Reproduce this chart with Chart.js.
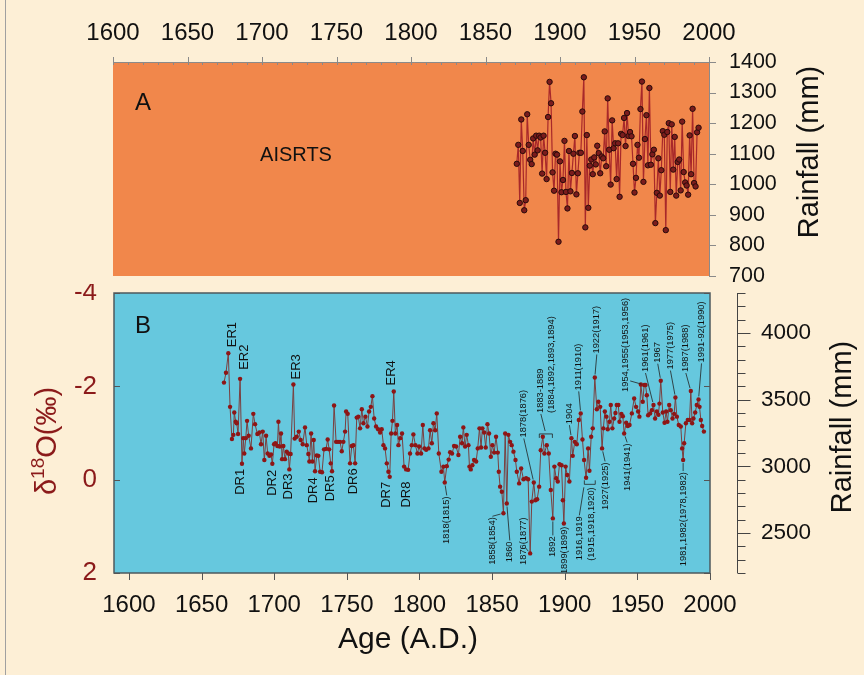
<!DOCTYPE html>
<html>
<head>
<meta charset="utf-8">
<script src="https://cdn.jsdelivr.net/npm/chart.js@4/dist/chart.umd.min.js"></script>
<style>
  html, body { margin: 0; padding: 0; background: #fdefd6; }
  #wrap { position: relative; width: 864px; height: 675px; overflow: hidden; }
  #frame { position: absolute; left: 5px; top: 0; width: 1px; height: 675px; background: #a0a0a0; }
  canvas { position: absolute; left: 0; }
  #top { top: 0; }
  #bot { top: 284px; }
</style>
</head>
<body>
<div id="wrap">
  <div id="frame"></div>
  <canvas id="top" width="864" height="284"></canvas>
  <canvas id="bot" width="864" height="391"></canvas>
</div>
<script>
// panel A: all-India summer rainfall (AISRTS), mm
const rainYears = [
  1871, 1872, 1873, 1874, 1875, 1876, 1877, 1878, 1879, 1880, 1881, 1882, 1883, 1884, 1885, 1886,
  1887, 1888, 1889, 1890, 1891, 1892, 1893, 1894, 1895, 1896, 1897, 1898, 1899, 1900, 1901, 1902,
  1903, 1904, 1905, 1906, 1907, 1908, 1909, 1910, 1911, 1912, 1913, 1914, 1915, 1916, 1917, 1918,
  1919, 1920, 1921, 1922, 1923, 1924, 1925, 1926, 1927, 1928, 1929, 1930, 1931, 1932, 1933, 1934,
  1935, 1936, 1937, 1938, 1939, 1940, 1941, 1942, 1943, 1944, 1945, 1946, 1947, 1948, 1949, 1950,
  1951, 1952, 1953, 1954, 1955, 1956, 1957, 1958, 1959, 1960, 1961, 1962, 1963, 1964, 1965, 1966,
  1967, 1968, 1969, 1970, 1971, 1972, 1973, 1974, 1975, 1976, 1977, 1978, 1979, 1980, 1981, 1982,
  1983, 1984, 1985, 1986, 1987, 1988, 1989, 1990, 1991, 1992, 1993
];
const rainValues = [
  1067, 1129, 939, 1212, 1109, 915, 948, 1229, 1129, 1080, 1066, 1150, 1097, 1159, 1111, 1159,
  1153, 1035, 1159, 1103, 1017, 1220, 1335, 1265, 1039, 979, 1100, 1097, 812, 1075, 974, 1014,
  1142, 975, 921, 1109, 977, 1037, 1100, 1158, 967, 1036, 1103, 1103, 1238, 1350, 859, 1161,
  923, 1061, 1081, 1033, 1088, 1065, 1126, 1102, 1036, 1091, 1085, 1173, 1059, 1281, 1113, 999,
  1209, 1118, 1134, 1017, 1134, 959, 1165, 1161, 1217, 1125, 1233, 1158, 1171, 1157, 1067, 973,
  1021, 1129, 1087, 1246, 1336, 1008, 1148, 1226, 1062, 1315, 1064, 1098, 1113, 873, 972, 1085,
  963, 1046, 1174, 1162, 850, 1171, 1200, 975, 1196, 1048, 1155, 963, 1073, 1081, 980, 1205,
  1040, 1006, 996, 966, 1160, 1033, 1247, 1004, 993, 1170, 1185
];

// panel B: speleothem d18O (per mil)
const isoYears = [
  1665.4, 1666.8, 1668.4, 1669.6, 1670.9, 1671.9, 1672.5, 1673.5, 1674.2, 1675.1, 1676.5, 1677.8,
  1678.7, 1679.4, 1680.4, 1681.3, 1682.4, 1684.0, 1685.6, 1686.8, 1688.4, 1689.8, 1690.9, 1692.1,
  1693.2, 1694.4, 1695.5, 1696.7, 1697.8, 1698.7, 1699.9, 1700.8, 1702.2, 1702.9, 1703.8, 1704.7,
  1705.4, 1706.3, 1707.4, 1708.6, 1709.7, 1710.4, 1711.3, 1713.2, 1714.1, 1715.5, 1716.9, 1718.2,
  1719.6, 1721.2, 1722.4, 1723.5, 1724.2, 1725.4, 1726.3, 1727.2, 1728.1, 1729.3, 1730.4, 1731.6,
  1732.9, 1734.3, 1735.7, 1736.8, 1737.8, 1738.9, 1739.8, 1741.2, 1742.6, 1743.9, 1745.3, 1746.5,
  1747.6, 1748.8, 1749.5, 1750.6, 1752.2, 1753.4, 1754.5, 1755.7, 1756.8, 1757.9, 1759.1, 1760.3,
  1761.4, 1762.8, 1764.2, 1765.3, 1766.5, 1767.6, 1768.8, 1770.1, 1771.5, 1772.9, 1774.0, 1775.2,
  1776.3, 1777.5, 1778.6, 1779.5, 1780.5, 1781.4, 1782.3, 1783.4, 1784.6, 1785.5, 1786.7, 1788.0,
  1789.4, 1790.8, 1792.2, 1793.5, 1794.7, 1795.8, 1797.2, 1798.6, 1799.7, 1801.1, 1802.3, 1803.4,
  1804.6, 1806.2, 1807.3, 1808.5, 1809.6, 1810.8, 1811.9, 1813.3, 1815.1, 1816.5, 1817.4, 1818.8,
  1820.1, 1821.1, 1822.4, 1823.8, 1825.2, 1826.8, 1828.0, 1829.3, 1830.2, 1831.4, 1832.5, 1833.7,
  1834.4, 1835.3, 1836.4, 1837.6, 1839.0, 1840.1, 1841.3, 1842.4, 1843.3, 1844.5, 1845.6, 1846.8,
  1847.9, 1849.1, 1850.2, 1851.4, 1852.7, 1853.9, 1854.6, 1855.5, 1856.7, 1857.8, 1859.0, 1860.1,
  1861.2, 1862.4, 1863.5, 1864.7, 1866.1, 1867.0, 1868.6, 1870.0, 1871.6, 1873.4, 1874.8, 1876.2,
  1877.3, 1878.7, 1879.8, 1881.0, 1882.4, 1883.5, 1884.9, 1886.0, 1887.6, 1889.0, 1890.4, 1891.8,
  1892.9, 1894.1, 1895.2, 1896.4, 1897.8, 1898.7, 1899.4, 1900.6, 1901.7, 1903.2, 1904.6, 1905.5,
  1906.9, 1908.3, 1909.7, 1911.0, 1912.2, 1913.3, 1914.7, 1916.1, 1917.0, 1918.2, 1919.3, 1920.7,
  1922.1, 1923.2, 1924.4, 1925.7, 1926.6, 1927.6, 1928.7, 1929.6, 1930.8, 1931.7, 1932.8, 1934.0,
  1934.9, 1935.8, 1936.9, 1937.7, 1939.0, 1940.0, 1940.9, 1942.3, 1943.4, 1944.6, 1946.2, 1947.8,
  1949.1, 1950.5, 1951.4, 1952.4, 1953.7, 1954.7, 1955.6, 1956.5, 1957.4, 1958.8, 1960.0, 1961.1,
  1962.2, 1963.4, 1964.5, 1965.2, 1966.1, 1967.5, 1968.7, 1969.8, 1970.7, 1971.9, 1973.0, 1974.2,
  1975.3, 1976.2, 1977.2, 1978.5, 1979.9, 1980.8, 1981.5, 1982.2, 1983.4, 1984.7, 1985.9, 1986.8,
  1987.7, 1988.6, 1989.8, 1990.9, 1992.1, 1992.8, 1993.7, 1994.6, 1995.8
];
const isoValues = [
  -2.08, -2.29, -2.71, -1.56, -0.87, -0.96, -1.44, -1.24, -1.21, -0.98, -2.16, -0.34,
  -0.89, -0.56, -0.89, -1.26, -0.94, -0.67, -1.41, -1.19, -0.98, -1.01, -0.76, -1.03,
  -0.42, -0.94, -0.56, -0.51, -0.54, -0.34, -0.76, -0.78, -0.72, -1.24, -0.71, -0.99,
  -0.44, -0.72, -0.44, -0.60, -0.56, -0.22, -0.55, -2.04, -0.88, -0.92, -1.03, -0.85,
  -0.76, -1.12, -0.74, -0.55, -0.39, -0.99, -0.39, -0.85, -0.18, -0.52, -0.51, -0.17,
  -0.16, -0.65, -0.66, -0.86, -0.65, -0.35, -0.18, -1.59, -0.81, -0.81, -0.81, -0.61,
  -0.81, -1.03, -1.46, -1.41, -0.35, -0.72, -0.74, -0.35, -1.33, -1.35, -1.10, -1.51,
  -1.21, -1.35, -1.14, -1.46, -1.56, -1.79, -1.31, -1.14, -1.08, -1.01, -1.08, -0.74,
  -0.67, -0.35, -0.17, -0.06, -0.99, -1.26, -1.89, -0.99, -1.17, -0.74, -0.89, -0.99,
  -0.28, -0.22, -0.21, -0.56, -0.74, -0.97, -0.74, -0.56, -0.71, -0.56, -1.17, -0.67,
  -0.64, -0.67, -1.06, -0.78, -1.21, -1.06, -1.42, -0.56, -0.17, -0.28, 0.06, -0.29,
  -0.43, -0.59, -0.56, -0.72, -0.71, -0.53, -0.92, -0.78, -1.12, -0.71, -0.96, -0.74,
  -0.28, -0.22, -0.31, -0.42, -0.39, -0.67, -1.10, -0.69, -1.10, -1.01, -0.69, -1.19,
  -0.99, -0.49, -0.74, -0.58, -0.92, -0.58, -0.17, 0.15, 0.26, 0.72, -0.99, 0.51,
  -0.96, -0.81, -0.74, -0.60, -0.42, -0.17, 0.08, -0.24, -0.01, -0.03, -0.01, 1.58,
  0.47, 0.06, 0.44, 0.42, 0.15, -0.63, -0.92, -0.56, -0.74, -0.56, 0.22, 0.83,
  -0.28, -0.03, 0.04, -0.33, -0.31, 0.44, 0.94, -0.28, -0.10, 0.04, -0.89, -0.51,
  -0.81, -0.76, -1.28, -1.42, -0.86, -0.42, -0.04, -0.67, -0.19, -0.92, -1.10, -2.19,
  -1.51, -1.67, -1.56, -0.67, -1.10, -1.46, -1.35, -1.08, -1.24, -1.60, -1.10, -1.31,
  -1.43, -1.60, -1.60, -1.24, -1.41, -1.36, -0.99, -1.22, -1.15, -1.17, -1.42, -1.74,
  -1.56, -1.46, -1.35, -2.04, -1.67, -2.03, -2.03, -1.81, -1.38, -1.42, -1.49, -1.60,
  -1.31, -1.46, -1.39, -1.63, -2.12, -1.44, -1.22, -1.46, -1.24, -1.60, -1.49, -1.31,
  -1.41, -1.76, -1.35, -1.17, -1.14, -0.67, -0.42, -0.78, -1.21, -1.28, -1.28, -1.90,
  -1.21, -1.31, -1.44, -1.60, -1.72, -1.56, -1.28, -1.15, -1.03
];

const yearTicks = [1600, 1650, 1700, 1750, 1800, 1850, 1900, 1950, 2000];
const rainTicksA = [700, 800, 900, 1000, 1100, 1200, 1300, 1400];
const isoTicks = [-4, -2, 0, 2];
const rainTicksB = [2500, 3000, 3500, 4000];

// labelled events in panel B: text, anchor (year, d18O) and where the text sits
const notes = [
  { t: 'ER1', x: 1668.4, y: -2.71, dx: 4, dy: -6, up: true, size: 13 },
  { t: 'ER2', x: 1676.5, y: -2.16, dx: 4, dy: -9, up: true, size: 13 },
  { t: 'ER3', x: 1713.2, y: -2.04, dx: 3, dy: -5, up: true, size: 13 },
  { t: 'ER4', x: 1782.3, y: -1.89, dx: -2, dy: -6, up: true, size: 13 },
  { t: 'DR1', x: 1677.8, y: -0.34, dx: -2, dy: 5, size: 13 },
  { t: 'DR2', x: 1698.7, y: -0.34, dx: 0, dy: 6, size: 13 },
  { t: 'DR3', x: 1710.4, y: -0.22, dx: -1, dy: 4, size: 13 },
  { t: 'DR4', x: 1728.1, y: -0.18, dx: -2, dy: 6, size: 13 },
  { t: 'DR5', x: 1739.8, y: -0.18, dx: -2, dy: 4, size: 13 },
  { t: 'DR6', x: 1752.2, y: -0.35, dx: 3, dy: 5, size: 13 },
  { t: 'DR7', x: 1779.5, y: -0.06, dx: -3, dy: 5, size: 13 },
  { t: 'DR8', x: 1789.4, y: -0.28, dx: 2, dy: 15, size: 13 },
  { t: '1818(1815)', x: 1817.4, y: 0.06, dx: 2, dy: 14, line: true },
  { t: '1858(1854)', x: 1857.8, y: 0.72, dx: -11, dy: 4, line: true },
  { t: '1860', x: 1860.1, y: 0.51, dx: 3, dy: 38, line: true },
  { t: '1876(1877)', x: 1876.2, y: 1.58, dx: -7, dy: -36, line: true, lx: -5, ly: -6 },
  { t: '1878(1876)', x: 1878.7, y: 0.06, dx: -10, dy: -45, up: true, line: true },
  { t: ['1883-1889', '(1884,1892,1893,1894)'], x: 1887, y: -0.98, dx: -5, dy: -21, up: true, line: true },
  { t: '1892', x: 1891.8, y: 0.83, dx: 0, dy: 18, line: true },
  { t: '1899(1899)', x: 1899.4, y: 0.94, dx: 1, dy: 3 },
  { t: '1904', x: 1904.6, y: -0.89, dx: -2, dy: -14, up: true, line: true },
  { t: '1911(1910)', x: 1911.0, y: -1.42, dx: -2, dy: -23, up: true, line: true },
  { t: '1916,1919', x: 1913.5, y: 0.1, dx: -5, dy: 32, line: true },
  { t: '(1915,1918,1920)', x: 1917.25, y: 0.1, dx: 2, dy: 3 },
  { t: '1922(1917)', x: 1920.7, y: -2.19, dx: 2, dy: -24, up: true, line: true },
  { t: '1927(1925)', x: 1925.7, y: -0.67, dx: 3, dy: 14, line: true },
  { t: '1941(1941)', x: 1940.9, y: -0.99, dx: 3, dy: 10, line: true },
  { t: '1954,1955(1953,1956)', x: 1954.7, y: -2.03, dx: -19, dy: 7, up: true, line: true, lx: -14, ly: -4 },
  { t: '1961(1961)', x: 1961.1, y: -1.6, dx: -8, dy: -33, up: true, line: true },
  { t: '1967', x: 1966.1, y: -2.12, dx: -3, dy: -18, up: true, line: true },
  { t: '1977(1975)', x: 1976.2, y: -1.76, dx: -5, dy: -28, up: true, line: true },
  { t: '1987(1988)', x: 1986.8, y: -1.9, dx: -5, dy: -19, up: true, line: true },
  { t: '1991-92(1990)', x: 1992.1, y: -1.72, dx: 3, dy: -37, up: true, line: true },
  { t: '1981,1982(1978,1982)', x: 1981.5, y: -0.42, dx: 0, dy: 12, line: true }
];
const brackets = [
  { x1: 1882.5, x2: 1891.5, y: -0.98, leg: 4 },
  { x1: 1913.5, x2: 1921.0, y: 0.1, leg: -4 }
];

const FONT = "'Liberation Sans', Arial, sans-serif";
const ORANGE = '#f1874b';
const BLUE = '#66c8de';
const DARKRED = '#8b1a1a';
const AXIS = '#8a8a8a';

function font(size) { return { family: FONT, size: size }; }

function line(ctx, x1, y1, x2, y2) {
  ctx.beginPath(); ctx.moveTo(x1, y1); ctx.lineTo(x2, y2); ctx.stroke();
}

function vText(ctx, txt, x, y, align, size, color) {
  ctx.save();
  ctx.translate(x, y);
  ctx.rotate(-Math.PI / 2);
  ctx.font = size + 'px ' + FONT;
  ctx.fillStyle = color;
  ctx.textAlign = align;
  ctx.textBaseline = 'middle';
  ctx.fillText(txt, 0, 0);
  ctx.restore();
}

const fixTicks = list => scale => { scale.ticks = list.map(v => ({ value: v })); };
// force a scale's box size and drop the label overhang padding
const fitBox = (w, h) => s => {
  if (w !== null) s.width = w;
  if (h !== null) s.height = h;
  s.paddingTop = 0; s.paddingBottom = 0; s.paddingLeft = 0; s.paddingRight = 0;
};

// ---------- panel A ----------
const panelA = {
  id: 'panelA',
  beforeDraw(chart) {
    const { ctx, chartArea: a } = chart;
    ctx.save();
    ctx.fillStyle = ORANGE;
    ctx.fillRect(a.left, a.top, a.right - a.left, a.bottom - a.top);
    ctx.restore();
  },
  afterDraw(chart) {
    const { ctx, chartArea: a, scales } = chart;
    const xs = scales.x, ys = scales.y;
    ctx.save();
    ctx.strokeStyle = AXIS;
    ctx.lineWidth = 1;
    line(ctx, a.left, a.top + 0.5, a.right + 7, a.top + 0.5);
    line(ctx, a.right + 0.5, a.top, a.right + 0.5, a.bottom + 1);
    for (let v = 1600; v <= 2000; v += 10) {
      const px = Math.round(xs.getPixelForValue(v)) + 0.5;
      if (v % 50 === 0) line(ctx, px, a.top - 5, px, a.top + 3);
      else line(ctx, px, a.top, px, a.top + 3);
    }
    rainTicksA.forEach(v => {
      const py = Math.round(ys.getPixelForValue(v)) + 0.5;
      line(ctx, a.right, py, a.right + 7, py);
    });
    ctx.fillStyle = '#111';
    ctx.font = '24px ' + FONT;
    ctx.textAlign = 'center';
    ctx.textBaseline = 'middle';
    ctx.fillText('A', a.left + 30, a.top + 41);
    ctx.font = '20px ' + FONT;
    ctx.fillText('AISRTS', a.left + 183, a.top + 93);
    ctx.restore();
    vText(ctx, 'Rainfall (mm)', a.right + 101, (a.top + a.bottom) / 2 - 17, 'center', 29, '#111');
  }
};

new Chart(document.getElementById('top'), {
  type: 'line',
  data: {
    datasets: [{
      data: rainYears.map((y, i) => ({ x: y, y: rainValues[i] })),
      borderColor: '#a8282a',
      borderWidth: 1.2,
      pointRadius: 2.7,
      pointBackgroundColor: '#7a1c1c',
      pointBorderColor: '#2a0b0b',
      pointBorderWidth: 1,
      tension: 0
    }]
  },
  options: {
    responsive: false,
    animation: false,
    events: [],
    layout: { padding: { left: 113, right: 0, top: 0, bottom: 8 } },
    plugins: { legend: { display: false }, tooltip: { enabled: false } },
    scales: {
      x: {
        type: 'linear', position: 'top', min: 1600, max: 2000,
        grid: { display: false, drawTicks: false }, border: { display: false },
        afterBuildTicks: fixTicks(yearTicks),
        ticks: { font: font(24), color: '#111', padding: 14, maxRotation: 0, autoSkip: false, callback: v => String(v) },
        afterFit: fitBox(null, 62)
      },
      y: {
        position: 'right', min: 700, max: 1400,
        grid: { display: false, drawTicks: false }, border: { display: false },
        afterBuildTicks: fixTicks(rainTicksA),
        ticks: { font: font(21.5), color: '#111', padding: 20, autoSkip: false, callback: v => String(v) },
        afterFit: fitBox(155, null)
      }
    }
  },
  plugins: [panelA]
});

// ---------- panel B ----------
const panelB = {
  id: 'panelB',
  beforeDraw(chart) {
    const { ctx, chartArea: a } = chart;
    ctx.save();
    ctx.fillStyle = BLUE;
    ctx.fillRect(a.left, a.top, a.right - a.left, a.bottom - a.top);
    ctx.restore();
  },
  afterDatasetsDraw(chart) {
    const { ctx, scales } = chart;
    const xs = scales.x, ys = scales.y;
    ctx.save();
    ctx.strokeStyle = '#222';
    ctx.lineWidth = 0.8;
    brackets.forEach(b => {
      const x1 = xs.getPixelForValue(b.x1), x2 = xs.getPixelForValue(b.x2), y = ys.getPixelForValue(b.y);
      ctx.beginPath();
      ctx.moveTo(x1, y + b.leg); ctx.lineTo(x1, y); ctx.lineTo(x2, y); ctx.lineTo(x2, y + b.leg);
      ctx.stroke();
    });
    notes.forEach(n => {
      const ax = xs.getPixelForValue(n.x), ay = ys.getPixelForValue(n.y);
      const tx = ax + n.dx, ty = ay + n.dy;
      if (n.line) {
        const ex = n.lx !== undefined ? ax + n.lx : tx;
        const ey = n.ly !== undefined ? ay + n.ly : (n.up ? ty + 1 : ty - 1);
        const d = Math.hypot(ex - ax, ey - ay) || 1;
        line(ctx, ax + (ex - ax) * 3 / d, ay + (ey - ay) * 3 / d, ex, ey);
      }
      const lines = Array.isArray(n.t) ? n.t : [n.t];
      lines.forEach((s, i) => {
        vText(ctx, s, tx + i * 11, ty, n.up ? 'left' : 'right', n.size || 9.3, '#111');
      });
    });
    ctx.restore();
  },
  afterDraw(chart) {
    const { ctx, chartArea: a, scales } = chart;
    const xs = scales.x, ys = scales.y, yr = scales.yR;
    ctx.save();
    ctx.strokeStyle = '#4d5a5e';
    ctx.lineWidth = 1.5;
    ctx.strokeRect(a.left, a.top, a.right - a.left, a.bottom - a.top);
    ctx.lineWidth = 1;
    ctx.strokeStyle = '#555';
    yearTicks.forEach(v => {
      const px = Math.round(xs.getPixelForValue(v)) + 0.5;
      line(ctx, px, a.bottom, px, a.bottom + 7);
    });
    isoTicks.forEach(v => {
      const py = Math.round(ys.getPixelForValue(v)) + 0.5;
      line(ctx, a.left, py, a.left + 6, py);
      line(ctx, a.right - 6, py, a.right, py);
    });
    ctx.strokeStyle = '#444';
    const ax = Math.round(yr.left) + 0.5;
    line(ctx, ax, a.top, ax, a.bottom);
    for (let v = 2200; v <= 4300; v += 100) {
      const py = Math.round(yr.getPixelForValue(v)) + 0.5;
      line(ctx, ax, py, ax + (v % 500 === 0 ? 13 : 8), py);
    }
    ctx.fillStyle = '#111';
    ctx.font = '24px ' + FONT;
    ctx.textAlign = 'center';
    ctx.textBaseline = 'middle';
    ctx.fillText('B', a.left + 29, a.top + 33);
    ctx.font = '30px ' + FONT;
    ctx.fillText('Age (A.D.)', (a.left + a.right) / 2 - 4, a.bottom + 67);
    ctx.restore();

    vText(ctx, 'Rainfall (mm)', yr.left + 106, (a.top + a.bottom) / 2 - 6, 'center', 29, '#111');

    // d18O axis title with raised "18"
    ctx.save();
    ctx.translate(45, (a.top + a.bottom) / 2 + 8);
    ctx.rotate(-Math.PI / 2);
    ctx.fillStyle = DARKRED;
    ctx.textBaseline = 'middle';
    ctx.textAlign = 'left';
    const big = '29px ' + FONT, small = '19px ' + FONT;
    ctx.font = big; const w1 = ctx.measureText('\u03b4').width, w3 = ctx.measureText('O(\u2030)').width;
    ctx.font = small; const w2 = ctx.measureText('18').width;
    let x0 = -(w1 + w2 + w3) / 2;
    ctx.font = big; ctx.fillText('\u03b4', x0, 3); x0 += w1;
    ctx.font = small; ctx.fillText('18', x0, -6); x0 += w2;
    ctx.font = big; ctx.fillText('O(\u2030)', x0, 3);
    ctx.restore();
  }
};

new Chart(document.getElementById('bot'), {
  type: 'line',
  data: {
    datasets: [{
      data: isoYears.map((y, i) => ({ x: y, y: isoValues[i] })),
      borderColor: '#7a4040',
      borderWidth: 1,
      pointRadius: 2.2,
      pointBackgroundColor: '#8e1616',
      pointBorderWidth: 0,
      tension: 0
    }]
  },
  options: {
    responsive: false,
    animation: false,
    events: [],
    layout: { padding: { left: 0, right: 0, top: 9, bottom: 0 } },
    plugins: { legend: { display: false }, tooltip: { enabled: false } },
    scales: {
      x: {
        type: 'linear', position: 'bottom', min: 1589.7, max: 2000,
        grid: { display: false, drawTicks: false }, border: { display: false },
        afterBuildTicks: fixTicks(yearTicks),
        ticks: { font: font(24), color: '#111', padding: 18, maxRotation: 0, autoSkip: false, callback: v => String(v) },
        afterFit: fitBox(null, 102)
      },
      y: {
        position: 'left', reverse: true, min: -4, max: 2,
        grid: { display: false, drawTicks: false }, border: { display: false },
        afterBuildTicks: fixTicks(isoTicks),
        ticks: { font: font(26), color: DARKRED, padding: 17, autoSkip: false, callback: v => String(v) },
        afterFit: fitBox(114, null)
      },
      yPad: {
        position: 'right', min: 0, max: 1,
        grid: { display: false, drawTicks: false }, border: { display: false },
        ticks: { display: false },
        afterFit: fitBox(27, null)
      },
      yR: {
        position: 'right', min: 2200, max: 4300,
        grid: { display: false, drawTicks: false }, border: { display: false },
        afterBuildTicks: fixTicks(rainTicksB),
        ticks: { font: font(22.5), color: '#111', padding: 24, autoSkip: false, callback: v => String(v) },
        afterFit: fitBox(127, null)
      }
    }
  },
  plugins: [panelB]
});
</script>
</body>
</html>
